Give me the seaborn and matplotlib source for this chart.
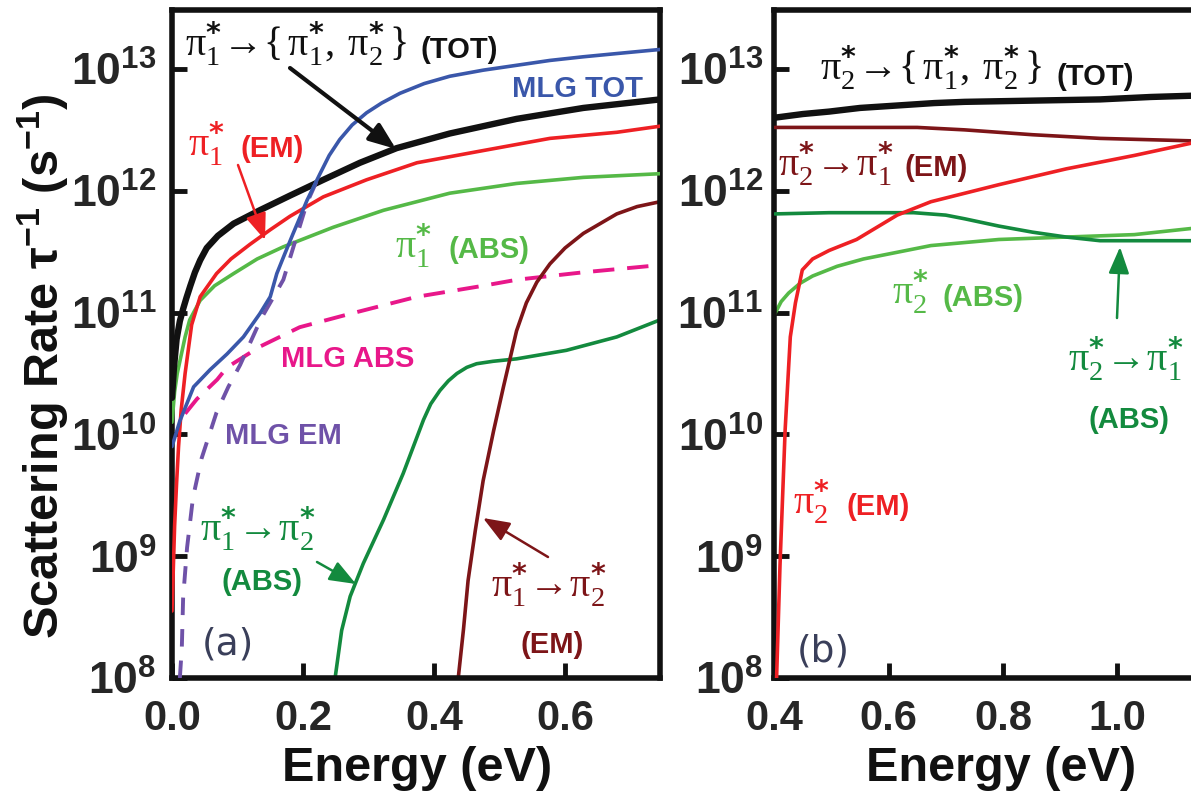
import numpy as np
import matplotlib
matplotlib.use("Agg")
import matplotlib.pyplot as plt
from matplotlib.transforms import Affine2D
from matplotlib.patches import FancyArrowPatch
from matplotlib.ticker import FixedLocator, FuncFormatter, NullLocator
import seaborn as sns

# ---------------- data (energy in eV, log10 of scattering rate in s^-1) ----------------
# panel (a)
a_tot_E = [0.0, 0.003, 0.007, 0.012, 0.017, 0.022, 0.028, 0.035, 0.043, 0.053, 0.070, 0.094, 0.134, 0.180, 0.231, 0.287, 0.343, 0.424, 0.526, 0.628, 0.745]
a_tot_L = [10.30, 10.55, 10.78, 10.93, 11.03, 11.12, 11.22, 11.33, 11.43, 11.53, 11.63, 11.73, 11.84, 11.96, 12.09, 12.23, 12.35, 12.47, 12.59, 12.68, 12.75]

a_em_E = [0.0, 0.002, 0.004, 0.007, 0.010, 0.014, 0.020, 0.030, 0.043, 0.068, 0.090, 0.119, 0.150, 0.180, 0.231, 0.297, 0.374, 0.475, 0.577, 0.679, 0.745]
a_em_L = [8.55, 8.90, 9.25, 9.60, 9.90, 10.20, 10.50, 10.90, 11.13, 11.32, 11.44, 11.56, 11.68, 11.79, 11.95, 12.09, 12.23, 12.33, 12.43, 12.48, 12.53]

a_abs_E = [0.0, 0.004, 0.008, 0.012, 0.020, 0.027, 0.043, 0.065, 0.094, 0.130, 0.170, 0.246, 0.323, 0.424, 0.526, 0.628, 0.745]
a_abs_L = [10.10, 10.35, 10.50, 10.60, 10.80, 10.94, 11.10, 11.22, 11.32, 11.44, 11.54, 11.70, 11.84, 11.98, 12.06, 12.11, 12.14]

mlg_tot_E = [0.0, 0.012, 0.033, 0.058, 0.084, 0.109, 0.134, 0.150, 0.160, 0.172, 0.185, 0.196, 0.206, 0.216, 0.226, 0.240, 0.256, 0.275, 0.297, 0.320, 0.348, 0.385, 0.424, 0.475, 0.526, 0.577, 0.628, 0.686, 0.745]
mlg_tot_L = [9.90, 10.11, 10.39, 10.53, 10.66, 10.80, 10.99, 11.13, 11.32, 11.48, 11.65, 11.79, 11.92, 12.03, 12.14, 12.29, 12.42, 12.54, 12.64, 12.72, 12.80, 12.88, 12.94, 12.99, 13.03, 13.07, 13.10, 13.13, 13.16]

mlg_em_E = [0.012, 0.015, 0.017, 0.023, 0.032, 0.045, 0.068, 0.086, 0.104, 0.120, 0.136, 0.152, 0.170, 0.190, 0.206, 0.226]
mlg_em_L = [8.00, 8.25, 8.66, 9.07, 9.48, 9.80, 10.18, 10.39, 10.57, 10.76, 10.95, 11.10, 11.27, 11.62, 11.90, 12.14]

mlg_abs_E = [0.020, 0.038, 0.069, 0.084, 0.134, 0.195, 0.272, 0.374, 0.475, 0.527, 0.627, 0.745]
mlg_abs_L = [10.17, 10.29, 10.45, 10.55, 10.72, 10.88, 10.99, 11.13, 11.22, 11.27, 11.33, 11.39]

a_12abs_E = [0.249, 0.259, 0.272, 0.292, 0.323, 0.353, 0.384, 0.395, 0.409, 0.422, 0.435, 0.450, 0.465, 0.490, 0.526, 0.602, 0.679, 0.745]
a_12abs_L = [8.00, 8.39, 8.67, 8.94, 9.30, 9.68, 10.12, 10.25, 10.36, 10.44, 10.50, 10.55, 10.58, 10.60, 10.62, 10.69, 10.80, 10.94]

a_12em_E = [0.437, 0.445, 0.452, 0.463, 0.475, 0.491, 0.506, 0.526, 0.541, 0.557, 0.577, 0.600, 0.628, 0.679, 0.710, 0.745]
a_12em_L = [8.00, 8.40, 8.80, 9.21, 9.62, 10.03, 10.39, 10.85, 11.08, 11.25, 11.40, 11.53, 11.65, 11.81, 11.87, 11.91]

# panel (b)
b_tot_E = [0.401, 0.450, 0.496, 0.550, 0.615, 0.680, 0.733, 0.852, 0.970, 1.059, 1.129]
b_tot_L = [12.60, 12.63, 12.65, 12.68, 12.70, 12.72, 12.73, 12.74, 12.75, 12.77, 12.78]

b_21em_E = [0.401, 0.556, 0.650, 0.733, 0.852, 0.970, 1.129]
b_21em_L = [12.52, 12.52, 12.52, 12.50, 12.46, 12.43, 12.41]

b_em_E = [0.404, 0.410, 0.419, 0.428, 0.437, 0.449, 0.467, 0.496, 0.544, 0.615, 0.674, 0.793, 0.911, 1.030, 1.129]
b_em_L = [8.00, 8.93, 10.04, 10.80, 11.08, 11.35, 11.44, 11.51, 11.60, 11.80, 11.91, 12.05, 12.18, 12.29, 12.39]

b_21abs_E = [0.401, 0.496, 0.644, 0.700, 0.733, 0.793, 0.852, 0.911, 0.970, 1.129]
b_21abs_L = [11.81, 11.82, 11.82, 11.80, 11.77, 11.71, 11.66, 11.62, 11.59, 11.59]

b_abs_E = [0.401, 0.412, 0.425, 0.445, 0.467, 0.510, 0.556, 0.674, 0.793, 0.911, 1.030, 1.129]
b_abs_L = [10.99, 11.09, 11.16, 11.24, 11.30, 11.38, 11.44, 11.55, 11.60, 11.62, 11.64, 11.69]

y_tick_exps = [8, 9, 10, 11, 12, 13]
a_xticks = [0.0, 0.2, 0.4, 0.6]
b_xticks = [0.4, 0.6, 0.8, 1.0]

# ---------------- style ----------------
C_BLACK = "#111111"
C_RED = "#ee2024"
C_LGREEN = "#55b947"
C_BLUE = "#3a57aa"
C_PURPLE = "#6f52a8"
C_PINK = "#e8178a"
C_DGREEN = "#138a3e"
C_DRED = "#7d1518"

sns.set_theme(style="ticks")
plt.rcParams.update({
    "font.family": ["Liberation Sans", "DejaVu Sans"],
    "font.weight": "bold",
    "mathtext.fontset": "custom",
    "mathtext.rm": "Liberation Serif:weight=normal",
    "mathtext.it": "Liberation Serif:style=italic:weight=normal",
    "mathtext.bf": "Liberation Sans:weight=bold",
    "mathtext.sf": "DejaVu Sans:weight=bold",
    "mathtext.default": "rm",
    "axes.linewidth": 4.0,
    "axes.edgecolor": C_BLACK,
})

W, H = 1191, 797
fig = plt.figure(figsize=(W / 100, H / 100), dpi=100)
PX = Affine2D().scale(1.0 / W, -1.0 / H).translate(0, 1) + fig.transFigure

y_top = 10 ** 13.484
axA = fig.add_axes([172 / W, 1 - 678 / H, (660 - 172) / W, (678 - 10) / H])
axB = fig.add_axes([774.3 / W, 1 - 678 / H, 422.9 / W, (678 - 10) / H])


def rate(L):
    return 10 ** np.asarray(L)


def curve(ax, E, L, color, lw=2.6, dashes=None, z=2):
    sns.lineplot(x=E, y=rate(L), ax=ax, color=color, linewidth=lw,
                 estimator=None, sort=False, legend=False, zorder=z)
    line = ax.lines[-1]
    line.set_solid_joinstyle("round")
    if dashes is not None:
        line.set_dashes(dashes)


# panel (a) curves
curve(axA, mlg_abs_E, mlg_abs_L, C_PINK, lw=2.8, dashes=(5.5, 3.3), z=2)
curve(axA, a_12abs_E, a_12abs_L, C_DGREEN, z=2)
curve(axA, a_12em_E, a_12em_L, C_DRED, z=2)
curve(axA, a_abs_E, a_abs_L, C_LGREEN, z=3)
curve(axA, a_em_E, a_em_L, C_RED, z=3)
curve(axA, a_tot_E, a_tot_L, C_BLACK, lw=4.6, z=4)
curve(axA, mlg_em_E, mlg_em_L, C_PURPLE, lw=2.8, dashes=(4.5, 3.6), z=5)
curve(axA, mlg_tot_E, mlg_tot_L, C_BLUE, z=6)

# panel (b) curves
curve(axB, b_abs_E, b_abs_L, C_LGREEN, z=2)
curve(axB, b_21abs_E, b_21abs_L, C_DGREEN, z=3)
curve(axB, b_em_E, b_em_L, C_RED, z=4)
curve(axB, b_21em_E, b_21em_L, C_DRED, z=3)
curve(axB, b_tot_E, b_tot_L, C_BLACK, lw=4.6, z=5)

yfmt = FuncFormatter(lambda v, p: r"$\mathbf{10^{%d}}$" % int(round(np.log10(v))))
for ax, xt, xl, ypad in ((axA, a_xticks, (0.0, 0.745), 11), (axB, b_xticks, (0.4, 1.14), 8)):
    ax.set_yscale("log")
    ax.set_ylim(1e8, y_top)
    ax.set_xlim(*xl)
    ax.yaxis.set_major_locator(FixedLocator([10.0 ** e for e in y_tick_exps]))
    ax.yaxis.set_minor_locator(NullLocator())
    ax.yaxis.set_major_formatter(yfmt)
    ax.xaxis.set_major_locator(FixedLocator(xt))
    ax.xaxis.set_major_formatter(FuncFormatter(lambda v, p: "%.1f" % v))
    ax.tick_params(axis="both", which="major", direction="in", length=11, width=3.5,
                   color=C_BLACK, top=False, right=False)
    ax.tick_params(axis="y", labelsize=32, pad=ypad)
    ax.tick_params(axis="x", labelsize=30, pad=15)
    for s in ax.spines.values():
        s.set_visible(True)
        s.set_linewidth(4.0)
        s.set_color(C_BLACK)
    ax.set_xlabel("")
    ax.set_ylabel("")
    ax.set_facecolor("white")

# axis titles
fig.text(43, 366, r"Scattering Rate $\mathbf{\tau^{-1}}$ (s$\mathbf{^{-1}}$)", transform=PX,
         rotation=90, ha="center", va="center", fontsize=35, fontweight="bold", color=C_BLACK)
fig.text(417, 781, "Energy (eV)", transform=PX, ha="center", va="baseline",
         fontsize=35, fontweight="bold", color=C_BLACK)
fig.text(1001, 781, "Energy (eV)", transform=PX, ha="center", va="baseline",
         fontsize=35, fontweight="bold", color=C_BLACK)

MS = 29   # size of math parts
LS = 21   # size of bold word parts
S = r"^{\mathsf{*}}"
AR = r"\!\rightarrow\!"
SET12 = r"\{\,\pi_1" + S + r",\;\pi_2" + S + r"\,\}"


def mlab(x, y, s, color, ha="left"):
    fig.text(x, y, "$" + s + "$", transform=PX, ha=ha, va="baseline", fontsize=MS, color=color)


def wlab(x, y, s, color, ha="left", size=LS):
    fig.text(x, y, s, transform=PX, ha=ha, va="baseline", fontsize=size, fontweight="bold", color=color)


def arrow(x1, y1, x2, y2, color, lw=2.2):
    fig.add_artist(FancyArrowPatch(
        (x1, y1), (x2, y2), transform=PX, arrowstyle="-|>,head_length=0.9,head_width=0.35",
        mutation_scale=18, color=color, lw=lw, shrinkA=0, shrinkB=0, zorder=10))


# panel (a) annotations
mlab(185, 57, r"\pi_1" + S + AR + SET12, C_BLACK)
wlab(421, 58, "(TOT)", C_BLACK)
arrow(290, 68, 396, 149, C_BLACK, lw=3.0)
wlab(577, 97, "MLG TOT", C_BLUE, ha="center")
mlab(188, 157, r"\pi_1" + S, C_RED)
wlab(240, 157, "(EM)", C_RED)
arrow(238, 165, 265, 240, C_RED, lw=1.8)
mlab(395, 258, r"\pi_1" + S, C_LGREEN)
wlab(448, 258, "(ABS)", C_LGREEN)
wlab(348, 367, "MLG ABS", C_PINK, ha="center")
wlab(283, 444, "MLG EM", C_PURPLE, ha="center")
mlab(200, 542, r"\pi_1" + S + AR + r"\pi_2" + S, C_DGREEN)
wlab(262, 590, "(ABS)", C_DGREEN, ha="center")
arrow(317, 562, 356, 584, C_DGREEN, lw=1.8)
mlab(491, 598, r"\pi_1" + S + AR + r"\pi_2" + S, C_DRED)
wlab(552, 653, "(EM)", C_DRED, ha="center")
arrow(548, 557, 483, 518, C_DRED, lw=1.8)
fig.text(228, 655, "(a)", transform=PX, ha="center", va="baseline", fontsize=27,
         fontweight="normal", family="DejaVu Sans", color="#3a3f5a")

# panel (b) annotations
mlab(820, 81, r"\pi_2" + S + AR + SET12, C_BLACK)
wlab(1056, 85, "(TOT)", C_BLACK)
mlab(778, 176, r"\pi_2" + S + AR + r"\pi_1" + S, C_DRED)
wlab(904, 176, "(EM)", C_DRED)
mlab(892, 305, r"\pi_2" + S, C_LGREEN)
wlab(943, 306, "(ABS)", C_LGREEN)
mlab(1068, 372, r"\pi_2" + S + AR + r"\pi_1" + S, C_DGREEN)
wlab(1129, 428, "(ABS)", C_DGREEN, ha="center")
arrow(1117, 318, 1120, 247, C_DGREEN, lw=1.8)
mlab(793, 515, r"\pi_2" + S, C_RED)
wlab(846, 515, "(EM)", C_RED)
fig.text(823, 662, "(b)", transform=PX, ha="center", va="baseline", fontsize=27,
         fontweight="normal", family="DejaVu Sans", color="#3a3f5a")

fig.savefig("out.png", dpi=100, facecolor="white")
